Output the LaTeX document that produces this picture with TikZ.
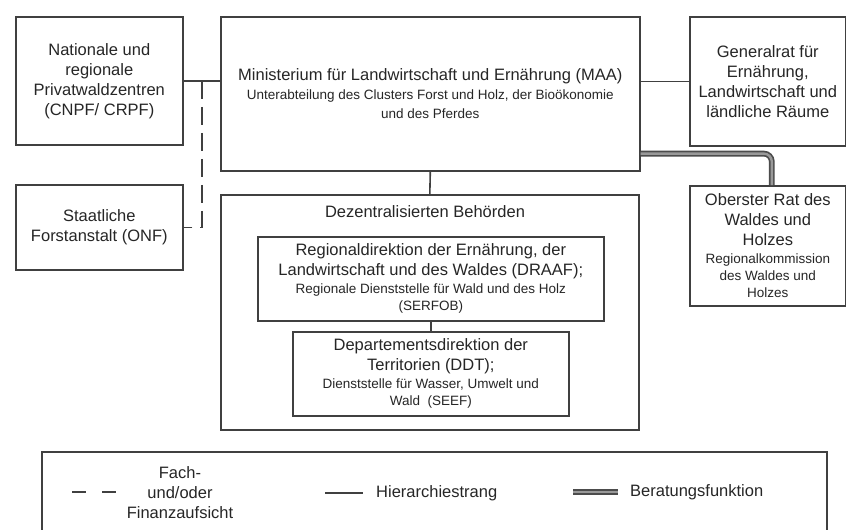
\documentclass[tikz,border=0pt]{standalone}
\usepackage{fontspec}
\setmainfont{Liberation Sans}
\usetikzlibrary{calc}
\newcommand{\bigf}{\fontsize{16.5}{20}\selectfont}
\newcommand{\smf}{\fontsize{13.5}{17}\selectfont}
\begin{document}
\begin{tikzpicture}[x=1pt,y=-1pt,
  box/.style={draw=black!75, line width=1.6pt, inner sep=0pt, anchor=north west, align=center, text=black!85, font=\bigf},
  hier/.style={draw=black!75, line width=1.6pt},
  fach/.style={draw=black!75, line width=1.6pt, dash pattern=on 18pt off 8pt},
  berat/.style={draw=black!70, line width=1.7pt, double=black!40, double distance=2.4pt},
  lbl/.style={inner sep=0pt, align=center, text=black!85, font=\bigf}]
\useasboundingbox (0,0) rectangle (846,530);
\fill[white] (0,0) rectangle (846,530);

\node[box, minimum width=167pt, minimum height=128pt] (npz) at (15,16)
  {Nationale und\\regionale\\Privatwaldzentren\\(CNPF/ CRPF)};
\node[box, minimum width=167pt, minimum height=85pt] (onf) at (15,184)
  {Staatliche\\Forstanstalt (ONF)};
\node[box, minimum width=419pt, minimum height=154pt] (maa) at (220,16)
  {Ministerium für Landwirtschaft und Ernährung (MAA)\\[-1pt]
   \smf Unterabteilung des Clusters Forst und Holz, der Bioökonomie\\[-1pt]
   \smf und des Pferdes};
\node[box, minimum width=156pt, minimum height=129pt] (gen) at (689,16)
  {Generalrat für\\Ernährung,\\Landwirtschaft und\\ländliche Räume};
\node[box, minimum width=156pt, minimum height=120pt] (obr) at (689,185)
  {Oberster Rat des\\Waldes und\\Holzes\\[-2pt]
   \smf Regionalkommission\\[-3pt]\smf des Waldes und\\[-3pt]\smf Holzes};
\node[box, minimum width=418pt, minimum height=235pt] (dez) at (220,194) {};
\node[lbl] (dezl) at (425,212) {Dezentralisierten Behörden};
\node[box, minimum width=346pt, minimum height=84pt] (draaf) at (257,236)
  {Regionaldirektion der Ernährung, der\\Landwirtschaft und des Waldes (DRAAF);\\[-2pt]
   \smf Regionale Dienststelle für Wald und des Holz\\[-3pt]\smf (SERFOB)};
\node[box, minimum width=276pt, minimum height=84pt] (ddt) at (292,331)
  {Departementsdirektion der\\Territorien (DDT);\\[-2pt]
   \smf Dienststelle für Wasser, Umwelt und\\[-3pt]\smf Wald\ \ (SEEF)};

% connectors
\draw[hier] (npz.east) -- (npz.east -| maa.west);
\coordinate (j) at ($(npz.east)!0.5!(npz.east -| maa.west)$);
\draw[fach] (j) |- (onf.east);
\draw[hier] (gen.west) -- (gen.west -| maa.east);
\draw[hier] (maa.south) -- (dez.north);
\draw[hier] (draaf.south) -- (ddt.north);
\draw[berat, rounded corners=8pt] ([yshift=18pt]maa.south east) -| ([xshift=4pt]obr.north);

% legend
\draw[draw=black!75, line width=1.6pt] (42,531) -- (42,452) -- (827,452) -- (827,531);
\coordinate (f1) at (72,492); \coordinate (f2) at (118,492);
\draw[draw=black!75, line width=1.6pt, dash pattern=on 14pt off 16pt] (f1) -- (f2);
\node[lbl] (fachl) at (180,493) {Fach-\\und/oder\\Finanzaufsicht};
\coordinate (h1) at (325,493); \coordinate (h2) at (363,493);
\draw[hier] (h1) -- (h2);
\node[lbl, anchor=west] (hierl) at (376,493) {Hierarchiestrang};
\coordinate (b1) at (573,492); \coordinate (b2) at (618,492);
\draw[berat] (b1) -- (b2);
\node[lbl, anchor=west] (beratl) at (630,492) {Beratungsfunktion};
\end{tikzpicture}
\end{document}
